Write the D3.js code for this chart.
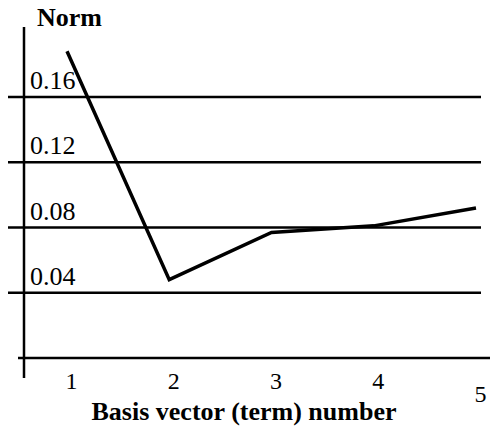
<!DOCTYPE html>
<html>
<head>
<meta charset="utf-8">
<script src="https://cdn.jsdelivr.net/npm/d3@7"></script>
<style>
body { margin: 0; background: #fff; }
text { font-family: "Liberation Serif", "Times New Roman", serif; fill: #000; }
</style>
</head>
<body>
<div id="chart-area"></div>
<script>
// values
var terms = [1, 2, 3, 4, 5];
var norms = [0.188, 0.048, 0.077, 0.081, 0.092];
var yTicks = [0.04, 0.08, 0.12, 0.16];
var yTickLabels = ["0.04", "0.08", "0.12", "0.16"];

var width = 493;
var height = 432;

var x = d3.scaleLinear().domain([1, 5]).range([67, 476]);
var y = d3.scaleLinear().domain([0, 0.16]).range([358, 97]);

var svg = d3.select("#chart-area")
.append("svg")
.attr("width", width)
.attr("height", height);

// horizontal grid lines
svg.selectAll("line.grid")
.data(yTicks)
.enter()
.append("line")
.attr("class", "grid")
.attr("x1", 8)
.attr("x2", 481)
.attr("y1", (d) => y(d))
.attr("y2", (d) => y(d))
.attr("stroke", "#000")
.attr("stroke-width", 2.5);

// bottom line (zero)
svg.append("line")
.attr("x1", 18)
.attr("x2", 490)
.attr("y1", y(0))
.attr("y2", y(0))
.attr("stroke", "#000")
.attr("stroke-width", 2.5);

// y axis
svg.append("line")
.attr("x1", 24)
.attr("x2", 24)
.attr("y1", 27)
.attr("y2", 378)
.attr("stroke", "#000")
.attr("stroke-width", 2.5);

// y tick labels sit above their line
svg.selectAll("text.ylab")
.data(yTicks)
.enter()
.append("text")
.attr("class", "ylab")
.attr("x", 30)
.attr("y", (d) => y(d) - 8)
.attr("font-size", "26px")
.text((d, i) => yTickLabels[i]);

// x tick labels
var xAxisGroup = svg.append("g")
.attr("transform", "translate(4, " + 369 + ")")
.call(d3.axisBottom(x).tickValues(terms).tickFormat(d3.format("d")).tickSize(0));
xAxisGroup.select(".domain").remove();
xAxisGroup.selectAll("text")
.attr("font-size", "24px")
.attr("font-family", "Liberation Serif, serif")
.attr("fill", "#000")
.attr("dy", (d) => d === 5 ? "1.25em" : "0.71em");

// data line
var line = d3.line()
.x((d, i) => x(terms[i]))
.y((d) => y(d));

svg.append("path")
.datum(norms)
.attr("d", line)
.attr("fill", "none")
.attr("stroke", "#000")
.attr("stroke-width", 3.5)
.attr("stroke-linejoin", "miter");

// titles
svg.append("text")
.attr("x", 37)
.attr("y", 26)
.attr("font-size", "26px")
.attr("font-weight", "bold")
.text("Norm");

svg.append("text")
.attr("x", 244)
.attr("y", 420)
.attr("font-size", "26px")
.attr("font-weight", "bold")
.attr("text-anchor", "middle")
.text("Basis vector (term) number");
</script>
</body>
</html>
